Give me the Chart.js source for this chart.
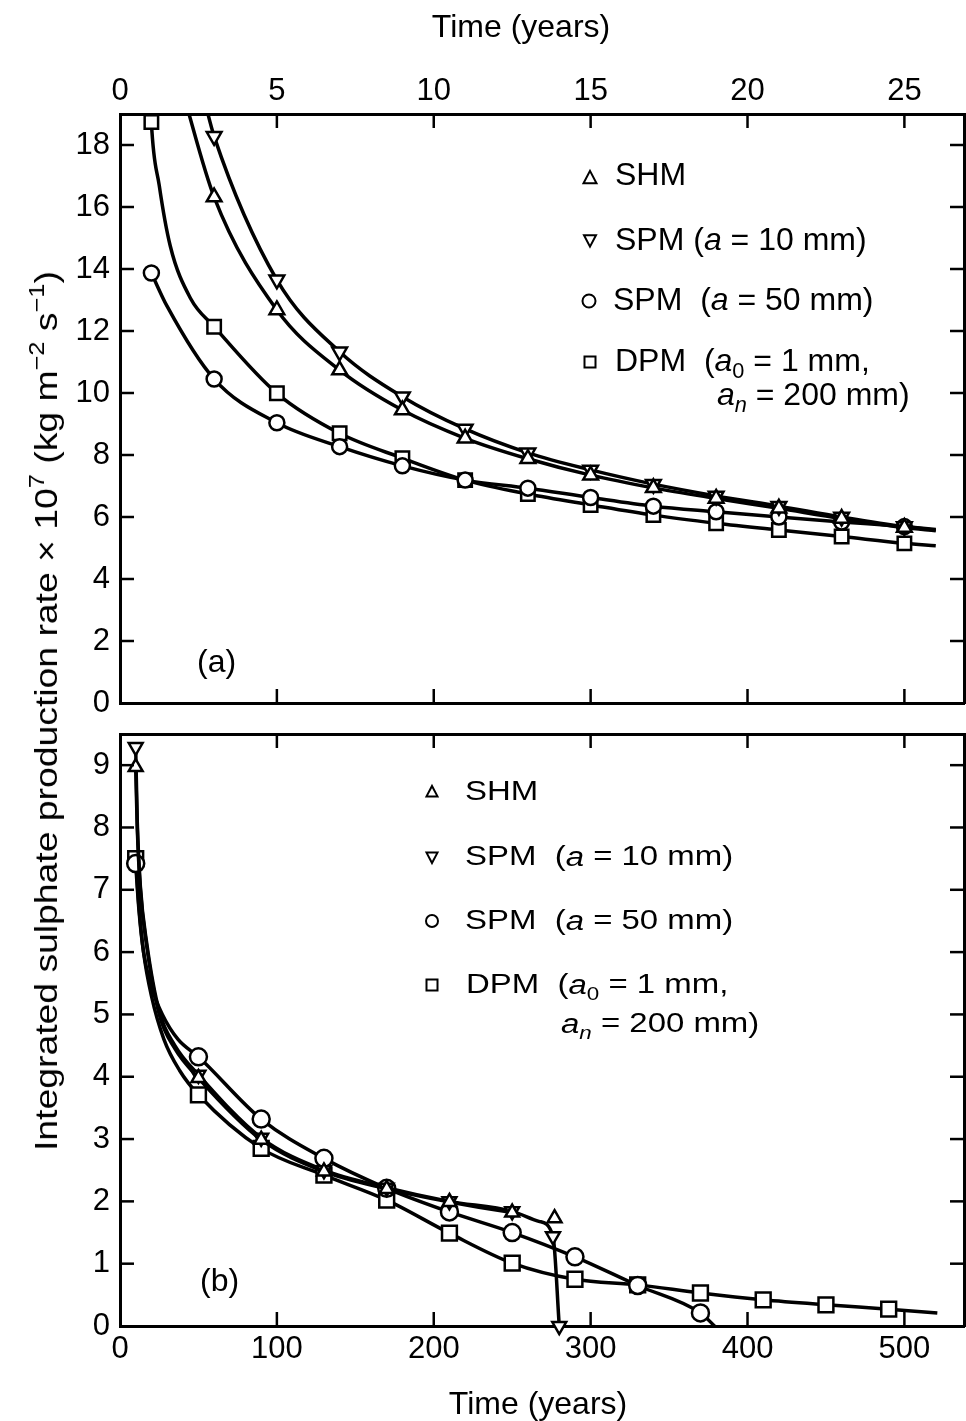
<!DOCTYPE html>
<html><head><meta charset="utf-8">
<script src="https://cdn.jsdelivr.net/npm/chart.js@4"></script>
<style>
html,body{margin:0;padding:0;background:#fff;overflow:hidden;width:966px;height:1421px;position:relative;}
#wrapA{position:absolute;left:0;top:0;width:966px;height:716px;}
#wrapB{position:absolute;left:0;top:716px;width:966px;height:707px;}
#ytitle{position:absolute;left:46px;top:711px;white-space:nowrap;font-family:'Liberation Sans',Arial,sans-serif;font-size:32px;color:#000;line-height:1;transform-origin:center center;}
#ytitle sup{font-size:0.68em;vertical-align:0.6em;line-height:0;}
</style></head>
<body>
<div id="wrapA"><canvas id="cA" width="966" height="716"></canvas></div>
<div id="wrapB"><canvas id="cB" width="966" height="707"></canvas></div>
<div id="ytitle">Integrated sulphate production rate × 10<sup>7</sup> (kg m<sup>−2</sup> s<sup>−1</sup>)</div>
<script>
// ---------- Panel (a): time in years ----------
const A_xTicks = [0, 5, 10, 15, 20, 25];
const A_yTicks = [0, 2, 4, 6, 8, 10, 12, 14, 16, 18];
const A_xMax = 26.9, A_yMax = 19;

// m: 1 = marked point, 0 = curve-only point, 2 = marked point without connecting line
const A_SHM_t = [2.0, 3, 5, 7, 9, 11, 13, 15, 17, 19, 21, 23, 25, 26];
const A_SHM_v = [19.7, 16.32, 12.68, 10.74, 9.45, 8.54, 7.88, 7.35, 6.94, 6.6, 6.28, 5.95, 5.66, 5.56];
const A_SHM_m = [0, 1, 1, 1, 1, 1, 1, 1, 1, 1, 1, 1, 1, 0];

const A_SPM10_t = [2.7, 3, 5, 7, 9, 11, 13, 15, 17, 19, 21, 23, 25, 26];
const A_SPM10_v = [19.4, 18.28, 13.65, 11.33, 9.88, 8.84, 8.07, 7.52, 7.06, 6.68, 6.35, 6.0, 5.69, 5.58];
const A_SPM10_m = [0, 1, 1, 1, 1, 1, 1, 1, 1, 1, 1, 1, 1, 0];

const A_SPM50_t = [1, 1.5, 3, 5, 7, 9, 11, 13, 15, 17, 19, 21, 23, 25, 26];
const A_SPM50_v = [13.87, 12.8, 10.45, 9.04, 8.27, 7.65, 7.19, 6.93, 6.63, 6.35, 6.17, 6.0, 5.84, 5.69, 5.6];
const A_SPM50_m = [1, 0, 1, 1, 1, 1, 1, 1, 1, 1, 1, 1, 1, 1, 0];

const A_DPM_t = [0.97, 1, 1.25, 1.6, 2.25, 3, 5, 7, 9, 11, 13, 15, 17, 19, 21, 23, 25, 26];
const A_DPM_v = [19.6, 18.74, 16.7, 14.75, 13.05, 12.14, 9.99, 8.7, 7.9, 7.19, 6.74, 6.39, 6.06, 5.8, 5.58, 5.37, 5.15, 5.07];
const A_DPM_m = [0, 1, 0, 0, 0, 1, 1, 1, 1, 1, 1, 1, 1, 1, 1, 1, 1, 0];

// ---------- Panel (b): time in years ----------
const B_xTicks = [0, 100, 200, 300, 400, 500];
const B_yTicks = [0, 1, 2, 3, 4, 5, 6, 7, 8, 9];
const B_xMax = 538, B_yMax = 9.5;

const B_SHM_t = [10, 11, 13, 17, 25, 35, 50, 90, 130, 170, 210, 250, 277];
const B_SHM_v = [8.97, 8.0, 7.0, 6.1, 5.0, 4.45, 3.98, 2.99, 2.48, 2.2, 1.99, 1.82, 1.73];
const B_SHM_m = [1, 0, 0, 0, 0, 0, 1, 1, 1, 1, 1, 1, 2];

const B_SPM10_t = [10, 11, 13, 17, 25, 35, 50, 90, 130, 170, 210, 250, 267, 276, 280];
const B_SPM10_v = [9.29, 8.1, 7.05, 6.15, 5.05, 4.5, 4.03, 3.02, 2.5, 2.22, 2.0, 1.84, 1.68, 1.44, 0];
const B_SPM10_m = [1, 0, 0, 0, 0, 0, 1, 1, 1, 1, 1, 1, 0, 1, 1];

const B_SPM50_t = [10, 12, 15, 20, 27, 37, 50, 90, 130, 170, 210, 250, 290, 330, 370, 379];
const B_SPM50_v = [7.42, 6.7, 6.0, 5.45, 5.0, 4.6, 4.32, 3.32, 2.69, 2.21, 1.83, 1.5, 1.11, 0.65, 0.21, 0];
const B_SPM50_m = [1, 0, 0, 0, 0, 0, 1, 1, 1, 1, 1, 1, 1, 1, 1, 0];

const B_DPM_t = [10, 12, 15, 20, 28, 38, 50, 90, 130, 170, 210, 250, 290, 330, 370, 410, 450, 490, 521];
const B_DPM_v = [7.5, 6.75, 6.0, 5.3, 4.6, 4.1, 3.71, 2.85, 2.42, 2.02, 1.49, 1.01, 0.75, 0.66, 0.53, 0.42, 0.34, 0.27, 0.21];
const B_DPM_m = [1, 0, 0, 0, 0, 0, 1, 1, 1, 1, 1, 1, 1, 1, 1, 1, 1, 1, 0];

// ---------- Text ----------
const X_TITLE = 'Time (years)';
const LEG_SHM = [['SHM', '']];
const LEG_SPM10_A = [['SPM (', ''], ['a', 'i'], [' = 10 mm)', '']];
const LEG_SPM10_B = [['SPM  (', ''], ['a', 'i'], [' = 10 mm)', '']];
const LEG_SPM50 = [['SPM  (', ''], ['a', 'i'], [' = 50 mm)', '']];
const LEG_DPM1 = [['DPM  (', ''], ['a', 'i'], ['0', 's'], [' = 1 mm,', '']];
const LEG_DPM2 = [['a', 'i'], ['n', 'is'], [' = 200 mm)', '']];
const LABEL_A = '(a)', LABEL_B = '(b)';

// ---------- Helpers ----------
const FAM = "'Liberation Sans', Arial, Helvetica, sans-serif";
Chart.defaults.font.family = FAM;
Chart.defaults.color = '#000';

function ds(t, v, m, style, rot, R) {
  return {
    data: t.map((x, i) => ({ x: x, y: v[i] })),
    borderColor: '#000', borderWidth: 3.5, backgroundColor: '#fff', fill: false,
    pointStyle: style, pointRotation: rot,
    pointRadius: m.map(f => f ? R : 0), pointHoverRadius: m.map(f => f ? R : 0),
    pointBorderWidth: 2.5, pointBackgroundColor: '#fff', pointBorderColor: '#000',
    cubicInterpolationMode: 'monotone',
    segment: { borderColor: c => m[c.p1DataIndex] === 2 ? 'rgba(0,0,0,0)' : '#000' }
  };
}

function mkScale(position, min, max, tickVals, showLabels, fitSize, labelPad, title) {
  const horiz = position === 'top' || position === 'bottom';
  return {
    type: 'linear', position: position, min: min, max: max,
    afterBuildTicks: s => { s.ticks = tickVals.map(v => ({ value: v })); },
    afterFit: s => {
      if (horiz) s.height = fitSize; else s.width = fitSize;
      s.paddingLeft = 0; s.paddingRight = 0; s.paddingTop = 0; s.paddingBottom = 0;
    },
    grid: { display: false, drawTicks: false },
    border: { display: true, color: '#000', width: 3 },
    ticks: { display: showLabels, font: { size: 31 }, color: '#000', padding: labelPad, maxRotation: 0, minRotation: 0, autoSkip: false },
    title: title ? { display: true, text: title.text, font: { size: 32 }, color: '#000', padding: title.padding } : { display: false }
  };
}

const inwardTicks = {
  id: 'inwardTicks',
  afterDatasetsDraw(chart) {
    const { ctx, chartArea: ca, scales } = chart;
    const L = 14;
    ctx.save();
    ctx.strokeStyle = '#000'; ctx.lineWidth = 2.5;
    Object.values(scales).forEach(s => {
      s.ticks.forEach(tk => {
        const p = s.getPixelForValue(tk.value);
        ctx.beginPath();
        if (s.position === 'top') { if (p <= ca.left + 2 || p >= ca.right - 2) return; ctx.moveTo(p, ca.top); ctx.lineTo(p, ca.top + L); }
        else if (s.position === 'bottom') { if (p <= ca.left + 2 || p >= ca.right - 2) return; ctx.moveTo(p, ca.bottom); ctx.lineTo(p, ca.bottom - L); }
        else if (s.position === 'left') { if (p <= ca.top + 2 || p >= ca.bottom - 2) return; ctx.moveTo(ca.left, p); ctx.lineTo(ca.left + L, p); }
        else { if (p <= ca.top + 2 || p >= ca.bottom - 2) return; ctx.moveTo(ca.right, p); ctx.lineTo(ca.right - L, p); }
        ctx.stroke();
      });
    });
    ctx.restore();
  }
};

function drawRich(ctx, x, y, runs, size, sx, align) {
  ctx.save();
  ctx.translate(x, y);
  ctx.scale(sx, 1);
  ctx.fillStyle = '#000';
  ctx.textBaseline = 'middle';
  ctx.textAlign = align || 'left';
  let cx = 0;
  runs.forEach(([txt, st]) => {
    let fs = size, dy = 0, style = '';
    if (st.indexOf('i') >= 0) style = 'italic ';
    if (st.indexOf('s') >= 0) { fs = size * 0.68; dy = size * 0.32; }
    ctx.font = style + fs + 'px ' + FAM;
    ctx.fillText(txt, cx, dy);
    cx += ctx.measureText(txt).width;
  });
  ctx.restore();
}

function drawMarker(ctx, type, x, y, s) {
  ctx.save();
  ctx.lineWidth = 2; ctx.fillStyle = '#fff'; ctx.strokeStyle = '#000';
  ctx.beginPath();
  if (type === 'up') { ctx.moveTo(x, y - s * 0.55); ctx.lineTo(x + s / 2, y + s * 0.4); ctx.lineTo(x - s / 2, y + s * 0.4); ctx.closePath(); }
  else if (type === 'down') { ctx.moveTo(x, y + s * 0.55); ctx.lineTo(x + s / 2, y - s * 0.4); ctx.lineTo(x - s / 2, y - s * 0.4); ctx.closePath(); }
  else if (type === 'circle') { ctx.arc(x, y, s / 2, 0, Math.PI * 2); }
  else { ctx.rect(x - s / 2, y - s / 2, s, s); }
  ctx.fill(); ctx.stroke();
  ctx.restore();
}

const annot = {
  id: 'annot',
  afterDraw(chart, args, o) {
    const ctx = chart.ctx;
    (o.rows || []).forEach(r => {
      if (r.mk) drawMarker(ctx, r.mk, r.mx, r.my, r.ms);
      drawRich(ctx, r.tx, r.ty, r.runs, o.size, o.sx);
    });
    if (o.label) drawRich(ctx, o.label.x, o.label.y, [[o.label.text, '']], o.label.size, 1);
    if (o.title) drawRich(ctx, o.title.x, o.title.y, [[o.title.text, '']], o.title.size, 1, 'center');
  }
};

// ---------- Chart (a) ----------
new Chart(document.getElementById('cA'), {
  type: 'line',
  data: { datasets: [
    ds(A_SHM_t, A_SHM_v, A_SHM_m, 'triangle', 0, 8.5),
    ds(A_SPM10_t, A_SPM10_v, A_SPM10_m, 'triangle', 180, 8.5),
    ds(A_SPM50_t, A_SPM50_v, A_SPM50_m, 'circle', 0, 7.5),
    ds(A_DPM_t, A_DPM_v, A_DPM_m, 'rect', 0, 9.5)
  ] },
  plugins: [inwardTicks, annot],
  options: {
    responsive: false, animation: false, events: [],
    layout: { padding: 0, autoPadding: false },
    plugins: {
      legend: { display: false }, tooltip: { enabled: false },
      annot: {
        size: 32, sx: 1,
        rows: [
          { mk: 'up', mx: 590, my: 178, ms: 13, tx: 615, ty: 176, runs: LEG_SHM },
          { mk: 'down', mx: 590, my: 240, ms: 12, tx: 615, ty: 241, runs: LEG_SPM10_A },
          { mk: 'circle', mx: 589, my: 301, ms: 13, tx: 613, ty: 301, runs: LEG_SPM50 },
          { mk: 'square', mx: 590, my: 362, ms: 11, tx: 615, ty: 362, runs: LEG_DPM1 },
          { tx: 717, ty: 396, runs: LEG_DPM2 }
        ],
        label: { text: LABEL_A, x: 197, y: 663, size: 32 },
        title: { text: X_TITLE, x: 521, y: 28, size: 32 }
      }
    },
    scales: {
      x: mkScale('bottom', 0, A_xMax, A_xTicks, false, 13, 0, null),
      x2: mkScale('top', 0, A_xMax, A_xTicks, true, 114, 4, null),
      y: mkScale('left', 0, A_yMax, A_yTicks, true, 120, 10, null),
      y2: mkScale('right', 0, A_yMax, A_yTicks, false, 2, 0, null)
    }
  }
});

// ---------- Chart (b) ----------
const OFF = 716;
new Chart(document.getElementById('cB'), {
  type: 'line',
  data: { datasets: [
    Object.assign(ds(B_SHM_t, B_SHM_v, B_SHM_m, 'triangle', 0, 8), { clip: false }),
    Object.assign(ds(B_SPM10_t, B_SPM10_v, B_SPM10_m, 'triangle', 180, 8), { clip: false }),
    Object.assign(ds(B_SPM50_t, B_SPM50_v, B_SPM50_m, 'circle', 0, 8.5), { clip: false }),
    Object.assign(ds(B_DPM_t, B_DPM_v, B_DPM_m, 'rect', 0, 10.5), { clip: false })
  ] },
  plugins: [inwardTicks, annot],
  options: {
    responsive: false, animation: false, events: [],
    layout: { padding: 0, autoPadding: false },
    plugins: {
      legend: { display: false }, tooltip: { enabled: false },
      annot: {
        size: 27, sx: 1.22,
        rows: [
          { mk: 'up', mx: 432, my: 792 - OFF, ms: 11, tx: 465, ty: 793 - OFF, runs: LEG_SHM },
          { mk: 'down', mx: 432, my: 857 - OFF, ms: 11, tx: 465, ty: 858 - OFF, runs: LEG_SPM10_B },
          { mk: 'circle', mx: 432, my: 921 - OFF, ms: 12, tx: 465, ty: 922 - OFF, runs: LEG_SPM50 },
          { mk: 'square', mx: 432, my: 985 - OFF, ms: 11, tx: 466, ty: 986 - OFF, runs: LEG_DPM1 },
          { tx: 561, ty: 1025 - OFF, runs: LEG_DPM2 }
        ],
        label: { text: LABEL_B, x: 200, y: 1282 - OFF, size: 32 },
        title: { text: X_TITLE, x: 538, y: 1405 - OFF, size: 32 }
      }
    },
    scales: {
      x: mkScale('bottom', 0, B_xMax, B_xTicks, true, 97, 5, null),
      x2: mkScale('top', 0, B_xMax, B_xTicks, false, 18, 0, null),
      y: mkScale('left', 0, B_yMax, B_yTicks, true, 120, 10, null),
      y2: mkScale('right', 0, B_yMax, B_yTicks, false, 2, 0, null)
    }
  }
});

// ---------- Shared y-axis title ----------
const yt = document.getElementById('ytitle');
const k = 880 / yt.offsetWidth;
yt.style.transform = 'translate(-50%,-50%) rotate(-90deg) scaleX(' + k.toFixed(3) + ')';
</script>
</body></html>
